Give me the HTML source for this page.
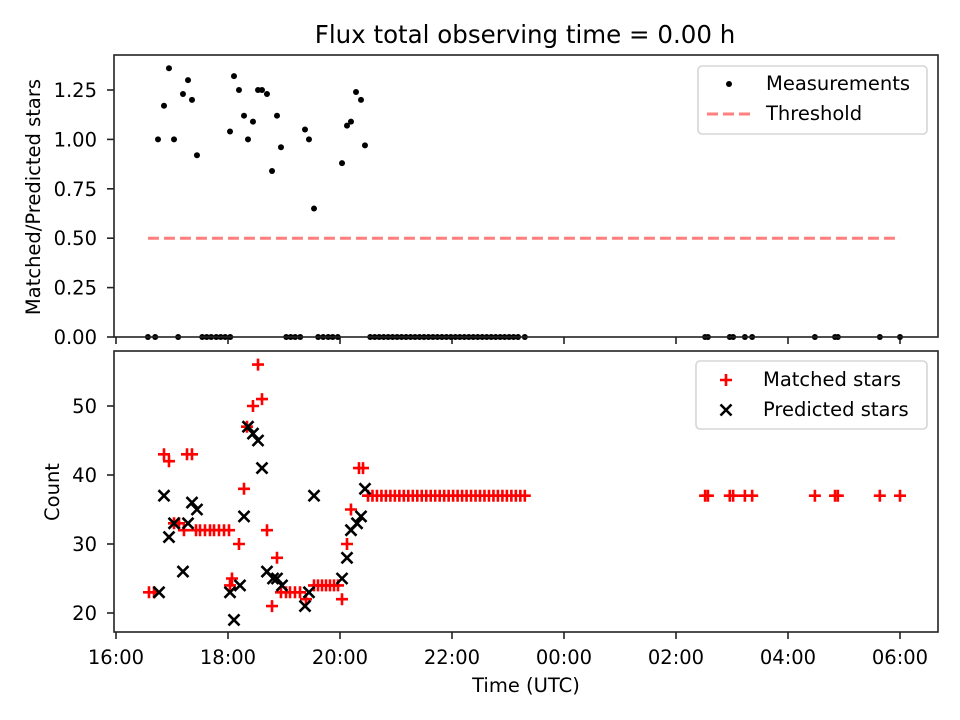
<!DOCTYPE html>
<html><head><meta charset="utf-8"><style>
body{margin:0;background:#fff;}
svg text{font-family:"DejaVu Sans","Liberation Sans",sans-serif;fill:#000;}
</style></head><body>
<svg id="chart" width="960" height="720" xmlns="http://www.w3.org/2000/svg" style="position:absolute;left:0;top:0">
<rect width="960" height="720" fill="#fff"/>
<text x="525" y="43" font-size="24.5" text-anchor="middle">Flux total observing time = 0.00 h</text>
<g id="topPanel"></g><g id="botPanel"></g>
</svg>
<script>
// times are hours since 16:00 UTC
const ratioTimes=[0.75,0.857,0.946,1.036,1.196,1.286,1.357,1.446,2.036,2.107,2.196,2.286,2.357,2.446,2.536,2.607,2.696,2.786,2.875,2.946,3.375,3.446,3.536,4.036,4.125,4.196,4.286,4.375,4.446];
const ratioValues=[1.00,1.17,1.36,1.00,1.23,1.30,1.20,0.92,1.04,1.32,1.25,1.12,1.00,1.09,1.25,1.25,1.23,0.84,1.12,0.96,1.05,1.00,0.65,0.88,1.07,1.09,1.24,1.20,0.97];
const zeroTimes=[0.57,0.70,1.11,1.54,1.62,1.70,1.79,1.87,1.95,2.04,3.04,3.12,3.20,3.29,3.61,3.70,3.79,3.87,3.96,
4.54,4.62,4.70,4.78,4.86,4.94,5.02,5.10,5.18,5.26,5.34,5.42,5.50,5.58,5.66,5.74,5.82,5.90,5.98,6.06,6.14,6.22,6.30,6.38,6.46,6.54,6.62,6.70,6.78,6.86,6.94,7.02,7.10,7.18,7.30,
10.52,10.57,10.96,11.02,11.23,11.36,12.48,12.84,12.89,13.64,14.0];
const threshold=0.5, thrStart=0.57, thrEnd=14.0;
const matchedTimes=[0.589,0.679,0.857,0.946,1.036,1.125,1.214,1.268,1.357,1.429,1.5,1.589,1.679,1.75,1.839,1.929,2.018,2.036,2.071,2.196,2.286,2.339,2.446,2.536,2.607,2.696,2.786,2.875,2.946,3.036,3.107,3.196,3.286,3.393,3.536,3.607,3.679,3.75,3.821,3.893,3.964,4.036,4.125,4.196,4.339,4.411,
4.50,4.58,4.66,4.74,4.82,4.90,4.98,5.06,5.14,5.22,5.30,5.38,5.46,5.54,5.62,5.70,5.78,5.86,5.94,6.02,6.10,6.18,6.26,6.34,6.42,6.50,6.58,6.66,6.74,6.82,6.90,6.98,7.06,7.14,7.22,7.30,
10.52,10.57,10.96,11.02,11.23,11.36,12.48,12.84,12.89,13.64,14.0];
const matchedCounts=[23,23,43,42,33,33,32,43,43,32,32,32,32,32,32,32,32,24,25,30,38,47,50,56,51,32,21,28,23,23,23,23,23,22,24,24,24,24,24,24,24,22,30,35,41,41,
37,37,37,37,37,37,37,37,37,37,37,37,37,37,37,37,37,37,37,37,37,37,37,37,37,37,37,37,37,37,37,37,37,37,37,37,
37,37,37,37,37,37,37,37,37,37,37];
const predTimes=[0.768,0.857,0.946,1.036,1.196,1.286,1.357,1.446,2.036,2.107,2.214,2.286,2.357,2.446,2.536,2.607,2.696,2.804,2.875,2.964,3.375,3.446,3.536,4.036,4.125,4.196,4.304,4.375,4.446];
const predCounts=[23,37,31,33,26,33,36,35,23,19,24,34,47,46,45,41,26,25,25,24,21,23,37,25,28,32,33,34,38];
const xTicks=[0,2,4,6,8,10,12,14];
const xTickLabels=["16:00","18:00","20:00","22:00","00:00","02:00","04:00","06:00"];
const topTicks=[0,0.25,0.5,0.75,1.0,1.25];
const botTicks=[20,30,40,50];

const NS="http://www.w3.org/2000/svg";
const L=114,R=938;
const xs=h=>116+h*56;
const yT=v=>337-v*197.6;
const yB=c=>613-(c-20)*6.9;
function mk(parent,tag,attrs){const e=document.createElementNS(NS,tag);for(const k in attrs)e.setAttribute(k,attrs[k]);parent.appendChild(e);return e;}
const topG=document.getElementById('topPanel'), botG=document.getElementById('botPanel');

function axes(g,y1,ticks,yf,fmt,name){
  xTicks.forEach(t=>{
    const tk=mk(g,'line',{x1:xs(t),x2:xs(t),y1:y1,y2:y1+7,stroke:'#222','stroke-width':1.6});
    
    
  });
  ticks.forEach(v=>{
    const tk=mk(g,'line',{x1:L-7,x2:L,y1:yf(v),y2:yf(v),stroke:'#222','stroke-width':1.6});
    
    
    const tl=mk(g,'text',{x:L-17,y:yf(v)+7,'font-size':19.5,'text-anchor':'end'});
    tl.textContent=fmt(v);
    
    
  });
}
// top panel
axes(topG,337,topTicks,yT,v=>v.toFixed(2),'top');
const thr=mk(topG,'line',{x1:xs(thrStart),x2:xs(thrEnd),y1:yT(threshold),y2:yT(threshold),stroke:'#ff7f7f','stroke-width':3,'stroke-dasharray':'11,5'});


ratioTimes.forEach((t,i)=>{
  const c=mk(topG,'circle',{cx:xs(t),cy:yT(ratioValues[i]),r:3,fill:'#000'});
  
  
});
zeroTimes.forEach(t=>{
  const c=mk(topG,'circle',{cx:xs(t),cy:yT(0),r:3,fill:'#000'});
  
  
});
const tf=mk(topG,'rect',{x:L,y:55,width:R-L,height:282,fill:'none',stroke:'#222','stroke-width':1.6});



// bottom panel
axes(botG,632,botTicks,yB,v=>String(v),'bottom');
xTicks.forEach((t,i)=>{
  const tl=mk(botG,'text',{x:xs(t),y:664,'font-size':19.5,'text-anchor':'middle'});
  tl.textContent=xTickLabels[i];
  
  
});
matchedTimes.forEach((t,i)=>{
  const px=xs(t),py=yB(matchedCounts[i]);
  const p=mk(botG,'path',{d:`M${px-6} ${py}H${px+6}M${px} ${py-6}V${py+6}`,stroke:'#f00','stroke-width':2.6});
  
  
});
predTimes.forEach((t,i)=>{
  const px=xs(t),py=yB(predCounts[i]);
  const p=mk(botG,'path',{d:`M${px-5.5} ${py-5.5}L${px+5.5} ${py+5.5}M${px-5.5} ${py+5.5}L${px+5.5} ${py-5.5}`,stroke:'#000','stroke-width':2.6});
  
  
});
const bf=mk(botG,'rect',{x:L,y:351,width:R-L,height:281,fill:'none',stroke:'#222','stroke-width':1.6});


</script>
<svg style="position:absolute;left:0;top:0" width="960" height="720">
<text transform="translate(40,197) rotate(-90)" font-size="19.5" text-anchor="middle">Matched/Predicted stars</text>
<text transform="translate(59,492) rotate(-90)" font-size="19.5" text-anchor="middle">Count</text>
<text x="526" y="692" font-size="19.5" text-anchor="middle">Time (UTC)</text>
<g>
<rect x="698" y="66" width="229" height="68" rx="4" fill="#fff" fill-opacity="0.8" stroke="#d5d5d5" stroke-width="1.6"/>
<circle cx="729" cy="84" r="3" fill="#000"/>
<text x="766" y="90" font-size="19.5">Measurements</text>
<line x1="707" x2="750" y1="114" y2="114" stroke="#ff7f7f" stroke-width="3" stroke-dasharray="11,5"/>
<text x="766" y="120" font-size="19.5">Threshold</text>
</g>
<g>
<rect x="696" y="361" width="231" height="68" rx="4" fill="#fff" fill-opacity="0.8" stroke="#d5d5d5" stroke-width="1.6"/>
<path d="M720 380H732M726 374V386" stroke="#f00" stroke-width="2.6"/>
<text x="763" y="386" font-size="19.5">Matched stars</text>
<path d="M720.5 404.5L731.5 415.5M720.5 415.5L731.5 404.5" stroke="#000" stroke-width="2.6"/>
<text x="763" y="416" font-size="19.5">Predicted stars</text>
</g>
</svg>
</body></html>
